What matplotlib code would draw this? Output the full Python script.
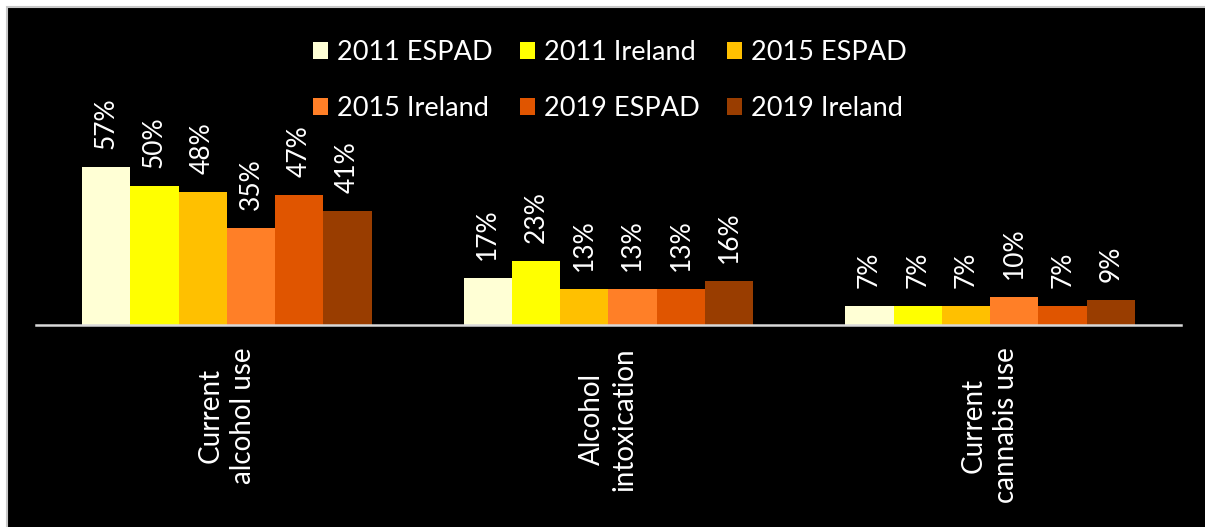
import matplotlib.pyplot as plt
from matplotlib.patches import Rectangle
import numpy as np

plt.rcParams['font.family'] = ['Lato', 'DejaVu Sans']

categories = ['Current\nalcohol use', 'Alcohol\nintoxication', 'Current\ncannabis use']
series = ['2011 ESPAD', '2011 Ireland', '2015 ESPAD', '2015 Ireland', '2019 ESPAD', '2019 Ireland']
values = [
    [57, 17, 7],   # 2011 ESPAD
    [50, 23, 7],   # 2011 Ireland
    [48, 13, 7],   # 2015 ESPAD
    [35, 13, 10],  # 2015 Ireland
    [47, 13, 7],   # 2019 ESPAD
    [41, 16, 9],   # 2019 Ireland
]
colors = ['#FFFFD5', '#FFFF00', '#FFC000', '#FF7F27', '#E05500', '#993D00']

fig = plt.figure(figsize=(12.05, 5.27), dpi=100, facecolor='white')

# black panel with a thin grey frame on the top and left only
panel = Rectangle((7 / 1205, -1), 2, 2 - 7 / 527, transform=fig.transFigure,
                  facecolor='black', edgecolor='#C8C8C8', linewidth=1.5, zorder=0)
fig.add_artist(panel)

ax = fig.add_axes([36 / 1205, 202 / 527, 1145 / 1205, 194 / 527])
ax.set_facecolor('none')

x = np.arange(len(categories))
width = 0.1266
handles = []
for i, (name, vals, c) in enumerate(zip(series, values, colors)):
    pos = x + (i - 2.5) * width
    bars = ax.bar(pos, vals, width, color=c, label=name)
    handles.append(bars)
    for p, v in zip(pos, vals):
        ax.annotate(f'{v}%', (p, v), xytext=(0, 13), textcoords='offset points',
                    rotation=90, ha='center', va='bottom', color='white', fontsize=19)

ax.set_xlim(-0.5, 2.5)
ax.set_ylim(0, 70)
ax.set_yticks([])
for s in ['top', 'left', 'right']:
    ax.spines[s].set_visible(False)
ax.spines['bottom'].set_color('#D9D9D9')
ax.spines['bottom'].set_linewidth(1.8)
ax.set_xticks(x)
ax.set_xticklabels(categories, rotation=90, color='white', fontsize=20,
                   multialignment='center', va='top', ha='center', linespacing=1.3)
ax.tick_params(axis='x', length=0, pad=16)

# legend filled row by row
order = [0, 3, 1, 4, 2, 5]
fig.legend([handles[k] for k in order], [series[k] for k in order],
           loc='upper center', bbox_to_anchor=(610 / 1205, 1 - 16 / 527), ncol=3,
           frameon=False, fontsize=19.5, labelcolor='white',
           handlelength=0.55, handleheight=0.6, handletextpad=0.35,
           columnspacing=1.0, labelspacing=1.12)

fig.savefig('out.png', dpi=100, facecolor=fig.get_facecolor())
